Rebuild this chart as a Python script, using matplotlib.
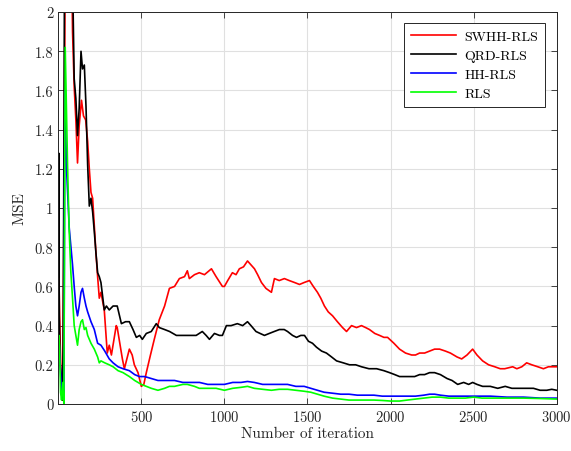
import matplotlib
matplotlib.use("Agg")
import matplotlib.pyplot as plt
from matplotlib.ticker import FormatStrFormatter

plt.rcParams['font.family'] = ['cmr10', 'DejaVu Serif']
plt.rcParams['axes.formatter.use_mathtext'] = True

# values (iteration, MSE)
it_swhh = [0, 4, 12, 20, 26, 36, 42, 80, 86, 96, 106, 116, 126, 140, 152, 165, 177, 187, 197, 207, 217, 227, 237, 247, 257,
           277, 295, 307, 320, 349, 355, 386, 398, 428, 445, 458, 480, 500, 515, 530, 555, 578, 608, 640, 669, 700, 729,
           760, 777, 789, 820, 849, 880, 922, 950, 988, 1000, 1020, 1048, 1070, 1090, 1115, 1139, 1160, 1181, 1200,
           1223, 1250, 1283, 1301, 1330, 1361, 1390, 1422, 1452, 1480, 1512, 1535, 1560, 1580, 1602, 1625, 1651, 1680,
           1711, 1735, 1765, 1795, 1825, 1850, 1873, 1905, 1934, 1960, 1982, 2020, 2054, 2090, 2127, 2150, 2175, 2205,
           2235, 2265, 2295, 2330, 2360, 2400, 2428, 2460, 2494, 2520, 2554, 2590, 2627, 2660, 2687, 2735, 2760, 2790,
           2819, 2850, 2886, 2920, 2950, 2980, 3000]
mse_swhh = [1.10, 0.65, 0.30, 0.05, 0.02, 1.2, 2.3, 2.3, 1.9, 1.62, 1.45, 1.23, 1.42, 1.55, 1.47, 1.45, 1.34, 1.20, 1.08, 1.05,
            0.91, 0.77, 0.65, 0.54, 0.57, 0.48, 0.26, 0.30, 0.25, 0.40, 0.39, 0.23, 0.18, 0.28, 0.25, 0.20, 0.16, 0.09,
            0.10, 0.16, 0.25, 0.33, 0.43, 0.50, 0.59, 0.60, 0.64, 0.65, 0.68, 0.64, 0.66, 0.67, 0.66, 0.69, 0.65, 0.60,
            0.60, 0.63, 0.67, 0.66, 0.69, 0.70, 0.73, 0.71, 0.69, 0.66, 0.62, 0.59, 0.57, 0.64, 0.63, 0.64, 0.63, 0.62,
            0.61, 0.62, 0.63, 0.60, 0.57, 0.54, 0.50, 0.47, 0.45, 0.42, 0.39, 0.37, 0.40, 0.39, 0.40, 0.39, 0.38, 0.36,
            0.35, 0.34, 0.34, 0.31, 0.28, 0.26, 0.25, 0.25, 0.26, 0.26, 0.27, 0.28, 0.28, 0.27, 0.26, 0.24, 0.23, 0.25,
            0.28, 0.25, 0.22, 0.20, 0.19, 0.18, 0.18, 0.19, 0.18, 0.19, 0.21, 0.20, 0.19, 0.18, 0.19, 0.19, 0.19]

it_qrd = [0, 3, 6, 12, 18, 24, 30, 38, 84, 96, 106, 116, 126, 137, 146, 157, 167, 177, 187, 197, 207, 217, 227, 237, 247,
          257, 267, 277, 290, 307, 330, 355, 380, 405, 428, 450, 470, 490, 506, 530, 560, 590, 608, 640, 670, 711, 740,
          789, 830, 867, 890, 910, 940, 970, 988, 1012, 1040, 1078, 1110, 1139, 1160, 1190, 1215, 1241, 1270, 1300,
          1331, 1360, 1380, 1410, 1434, 1460, 1482, 1506, 1530, 1554, 1585, 1614, 1645, 1675, 1715, 1753, 1790, 1825,
          1870, 1916, 1960, 1994, 2025, 2054, 2085, 2114, 2145, 2175, 2205, 2235, 2265, 2300, 2340, 2370, 2404, 2440,
          2470, 2494, 2520, 2554, 2600, 2645, 2690, 2730, 2780, 2820, 2860, 2900, 2940, 2970, 3000]
mse_qrd = [0.65, 1.28, 0.45, 0.20, 0.14, 0.02, 0.30, 2.3, 2.3, 1.66, 1.56, 1.37, 1.51, 1.80, 1.71, 1.73, 1.52, 1.22, 1.01,
           1.05, 0.98, 0.88, 0.77, 0.67, 0.65, 0.62, 0.55, 0.48, 0.50, 0.48, 0.50, 0.50, 0.41, 0.42, 0.42, 0.38, 0.34,
           0.35, 0.33, 0.36, 0.37, 0.41, 0.39, 0.38, 0.37, 0.35, 0.35, 0.35, 0.35, 0.37, 0.35, 0.33, 0.36, 0.35, 0.35,
           0.40, 0.40, 0.41, 0.40, 0.42, 0.40, 0.37, 0.36, 0.35, 0.36, 0.37, 0.38, 0.38, 0.37, 0.35, 0.34, 0.35, 0.35,
           0.32, 0.31, 0.29, 0.27, 0.26, 0.24, 0.22, 0.21, 0.20, 0.20, 0.19, 0.18, 0.18, 0.17, 0.16, 0.15, 0.14, 0.14,
           0.14, 0.14, 0.15, 0.15, 0.16, 0.16, 0.15, 0.13, 0.12, 0.10, 0.11, 0.10, 0.11, 0.10, 0.09, 0.09, 0.08, 0.09,
           0.08, 0.08, 0.08, 0.08, 0.07, 0.07, 0.075, 0.07]

it_hh = [0, 6, 12, 20, 28, 34, 40, 50, 66, 86, 96, 106, 116, 126, 137, 146, 157, 167, 177, 197, 217, 237, 257, 280, 307,
         330, 360, 390, 428, 460, 488, 520, 560, 600, 650, 700, 750, 800, 850, 900, 950, 1000, 1050, 1100, 1139, 1180,
         1230, 1283, 1330, 1380, 1430, 1480, 1520, 1560, 1600, 1651, 1700, 1750, 1800, 1850, 1900, 1950, 2000, 2054,
         2100, 2150, 2200, 2235, 2265, 2300, 2350, 2400, 2450, 2500, 2550, 2600, 2700, 2800, 2900, 3000]
mse_hh = [0.33, 0.30, 0.20, 0.05, 0.10, 0.02, 1.6, 1.20, 0.90, 0.71, 0.60, 0.50, 0.45, 0.50, 0.57, 0.59, 0.54, 0.50, 0.47,
          0.42, 0.38, 0.31, 0.30, 0.27, 0.23, 0.21, 0.19, 0.18, 0.17, 0.15, 0.14, 0.14, 0.13, 0.12, 0.12, 0.12, 0.11,
          0.11, 0.11, 0.10, 0.10, 0.10, 0.11, 0.11, 0.115, 0.11, 0.10, 0.10, 0.10, 0.10, 0.09, 0.09, 0.08, 0.07, 0.06,
          0.055, 0.05, 0.05, 0.045, 0.045, 0.045, 0.04, 0.04, 0.04, 0.04, 0.04, 0.045, 0.05, 0.05, 0.045, 0.04, 0.04,
          0.04, 0.04, 0.04, 0.04, 0.035, 0.035, 0.03, 0.03]

it_rls = [0, 4, 8, 14, 20, 28, 34, 42, 56, 66, 76, 86, 96, 106, 116, 126, 137, 146, 157, 167, 177, 197, 217, 237, 247,
          257, 280, 307, 330, 360, 390, 428, 460, 500, 530, 560, 600, 640, 669, 700, 750, 777, 820, 849, 900, 950, 1000,
          1050, 1100, 1139, 1180, 1230, 1283, 1330, 1380, 1430, 1480, 1520, 1560, 1600, 1651, 1700, 1750, 1800, 1850,
          1900, 1950, 2000, 2054, 2100, 2150, 2200, 2250, 2300, 2350, 2400, 2450, 2500, 2550, 2600, 2700, 2800, 2900, 3000]
mse_rls = [0.30, 0.35, 0.29, 0.06, 0.02, 0.11, 0.0, 1.82, 1.22, 0.88, 0.67, 0.54, 0.40, 0.35, 0.30, 0.38, 0.42, 0.43, 0.38,
           0.39, 0.35, 0.31, 0.28, 0.24, 0.21, 0.22, 0.21, 0.20, 0.19, 0.17, 0.16, 0.14, 0.12, 0.10, 0.09, 0.08, 0.07,
           0.08, 0.09, 0.09, 0.10, 0.10, 0.09, 0.08, 0.08, 0.08, 0.07, 0.08, 0.085, 0.09, 0.08, 0.075, 0.07, 0.075,
           0.075, 0.07, 0.065, 0.06, 0.05, 0.04, 0.03, 0.025, 0.02, 0.02, 0.02, 0.02, 0.018, 0.015, 0.015, 0.02, 0.025,
           0.03, 0.035, 0.035, 0.03, 0.03, 0.03, 0.035, 0.03, 0.03, 0.03, 0.03, 0.028, 0.025]

fig = plt.figure(figsize=(5.71, 4.52), dpi=100)
ax = fig.add_axes([0.102, 0.104, 0.873, 0.867])

ax.plot(it_swhh, mse_swhh, color=(1, 0, 0), lw=1.2, label="SWHH-RLS")
ax.plot(it_qrd, mse_qrd, color="black", lw=1.2, label="QRD-RLS")
ax.plot(it_hh, mse_hh, color=(0, 0, 1), lw=1.2, label="HH-RLS")
ax.plot(it_rls, mse_rls, color=(0, 1, 0), lw=1.2, label="RLS")

ax.set_xlim(0, 3000)
ax.set_ylim(0, 2)
ax.set_xticks([500, 1000, 1500, 2000, 2500, 3000])
ax.set_yticks([0, 0.2, 0.4, 0.6, 0.8, 1, 1.2, 1.4, 1.6, 1.8, 2])
ax.yaxis.set_major_formatter(FormatStrFormatter('%g'))
ax.grid(True, color=(0.88, 0.88, 0.88), lw=0.8)
ax.set_axisbelow(True)
ax.tick_params(direction='in', top=True, right=True, length=4, width=0.6,
               labelsize=10.5, colors=(0.15, 0.15, 0.15))
for s in ax.spines.values():
    s.set_color((0.15, 0.15, 0.15))
    s.set_linewidth(0.7)

ax.set_xlabel("Number of iteration", fontsize=11, color=(0.15, 0.15, 0.15), labelpad=2)
ax.set_ylabel("MSE", fontsize=11, color=(0.15, 0.15, 0.15), labelpad=6)

leg = ax.legend(loc='upper right', bbox_to_anchor=(0.976, 0.972), borderaxespad=0, fontsize=10,
                fancybox=False, framealpha=1, edgecolor=(0.15, 0.15, 0.15), handlelength=3.2,
                borderpad=0.5, labelspacing=0.45, handletextpad=0.6)
leg.get_frame().set_linewidth(0.7)

fig.savefig("out.png", dpi=100)
